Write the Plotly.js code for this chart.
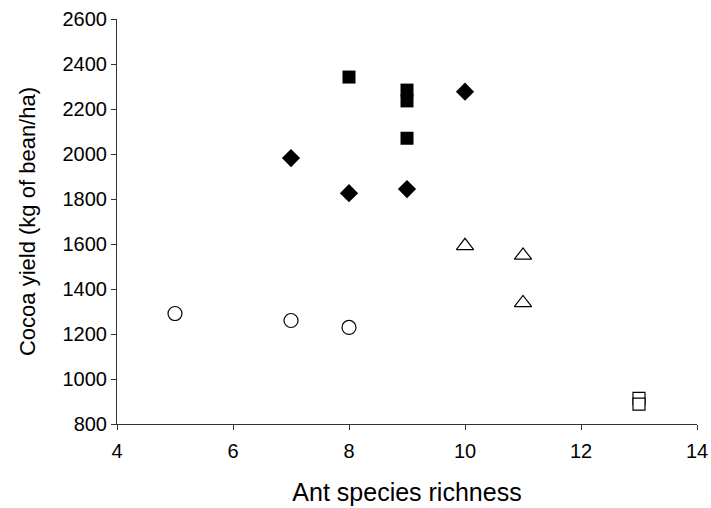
<!DOCTYPE html>
<html><head><meta charset="utf-8">
<script src="https://cdn.plot.ly/plotly-3.0.1.min.js"></script>
<style>html,body{margin:0;padding:0;background:#fff}#chart{width:711px;height:508px}</style>
</head><body><div id="chart"></div>
<script>
const filledSquareX = [8, 9, 9, 9];
const filledSquareY = [2342, 2284, 2236, 2070];
const diamondX = [7, 8, 9, 10];
const diamondY = [1982, 1826, 1844, 2277];
const triangleX = [10, 11, 11];
const triangleY = [1592, 1549, 1338];
const openSquareX = [13, 13];
const openSquareY = [914, 888];
const circleX = [5, 7, 8];
const circleY = [1291, 1260, 1229];
const xTicks = [4, 6, 8, 10, 12, 14];
const yTicks = [800, 1000, 1200, 1400, 1600, 1800, 2000, 2200, 2400, 2600];

const mk = (x, y, symbol, size, open) => ({
  x, y, type: 'scatter', mode: 'markers', showlegend: false, hoverinfo: 'skip',
  marker: {symbol, size, color: open ? '#fff' : '#000', line: {color: '#000', width: open ? 1.2 : 0}}
});

const data = [
  mk(filledSquareX, filledSquareY, 'square', 13, false),
  mk(diamondX, diamondY, 'diamond', 14, false),
  mk(triangleX, triangleY, 'triangle-up', 15, true),
  mk(openSquareX, openSquareY, 'square', 12, true),
  mk(circleX, circleY, 'circle', 14, true)
];

const fam = 'Liberation Sans, Arial, sans-serif';
const layout = {
  width: 711, height: 508,
  margin: {l: 117, r: 14, t: 19, b: 84},
  paper_bgcolor: '#fff', plot_bgcolor: '#fff',
  font: {family: fam, size: 20, color: '#000'},
  xaxis: {
    range: [4, 14], tickvals: xTicks, ticktext: xTicks.map(String),
    showgrid: false, zeroline: false, showline: true, linecolor: '#333', linewidth: 1,
    ticks: 'outside', ticklen: 5, tickcolor: '#333', ticklabelstandoff: 4,
    tickfont: {family: fam, size: 20, color: '#000'},
    title: {text: 'Ant species richness', font: {family: fam, size: 25, color: '#000'}, standoff: 22}
  },
  yaxis: {
    range: [800, 2600], tickvals: yTicks, ticktext: yTicks.map(String),
    showgrid: false, zeroline: false, showline: true, linecolor: '#333', linewidth: 1,
    ticks: 'outside', ticklen: 5, tickcolor: '#333',
    tickfont: {family: fam, size: 20, color: '#000'},
    title: {text: 'Cocoa yield (kg of bean/ha)', font: {family: fam, size: 22, color: '#000'}, standoff: 20}
  }
};
Plotly.newPlot('chart', data, layout, {displayModeBar: false, staticPlot: true});
</script></body></html>
